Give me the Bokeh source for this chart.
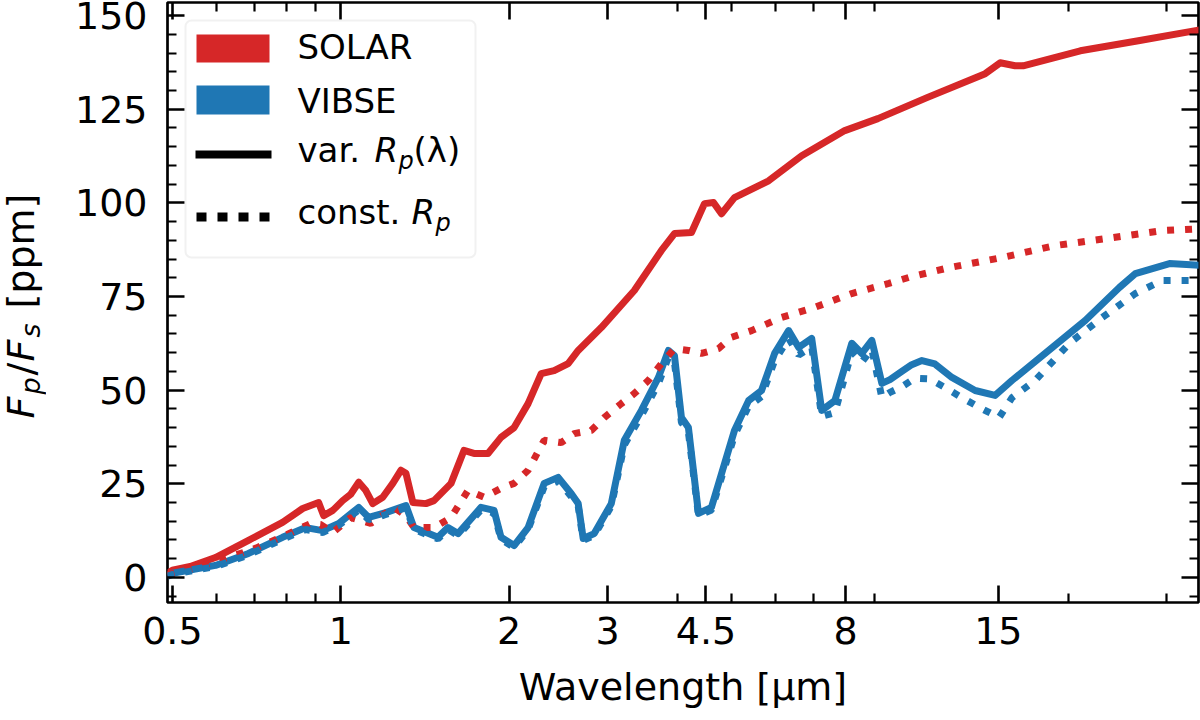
from math import pi

from bokeh.core.properties import value
from bokeh.embed import file_html
from bokeh.layouts import row
from bokeh.models import (BoxAnnotation, CustomJSTickFormatter, FixedTicker,
                          Label, LinearAxis, LogAxis, Range1d)
from bokeh.plotting import figure
from bokeh.resources import INLINE

RED = "#d62728"
BLUE = "#1f77b4"
FONT = "DejaVu Sans"

# ---- emission spectra: planet/star contrast in ppm vs wavelength in micron ----
wl_solar_var = [0.490, 0.500, 0.538, 0.597, 0.684, 0.787, 0.855, 0.913, 0.932, 0.968,
                1.008, 1.042, 1.077, 1.109, 1.141, 1.189, 1.239, 1.281, 1.308, 1.346,
                1.420, 1.468, 1.575, 1.661, 1.731, 1.834, 1.935, 2.042, 2.163, 2.283,
                2.408, 2.551, 2.659, 2.924, 3.350, 3.746, 3.952, 4.239, 4.472, 4.641,
                4.797, 5.060, 5.824, 6.674, 7.969, 9.133, 11.18, 14.21, 15.11, 16.07,
                16.61, 21.02, 26.70, 33.79, 34.49]
fpfs_solar_var = [1.1, 1.9, 2.9, 5.3, 9.9, 14.7, 18.4, 20.0, 16.5, 17.9,
                  20.5, 22.2, 25.4, 23.2, 19.7, 21.4, 25.1, 28.6, 27.8, 20.0,
                  19.7, 20.5, 25.1, 33.9, 33.1, 33.1, 37.4, 40.0, 46.4, 54.4,
                  55.2, 57.1, 60.6, 66.7, 76.6, 87.3, 91.8, 92.1, 99.8, 100.1,
                  97.1, 101.4, 105.9, 112.6, 119.3, 122.5, 128.1, 134.5, 137.4, 136.6,
                  136.6, 140.6, 143.3, 146.0, 146.2]

wl_solar_const = [0.490, 0.510, 0.561, 0.627, 0.690, 0.781, 0.884, 0.921, 0.968, 1.042,
                  1.132, 1.245, 1.308, 1.352, 1.468, 1.575, 1.689, 1.804, 1.935, 2.042,
                  2.163, 2.311, 2.479, 2.615, 2.805, 2.961, 3.175, 3.350, 3.550, 3.746,
                  3.952, 4.186, 4.417, 4.738, 4.998, 5.430, 6.144, 7.042, 8.204, 9.557,
                  10.38, 12.24, 15.23, 18.96, 23.98, 29.48, 34.49]
fpfs_solar_const = [0.8, 1.3, 2.9, 5.3, 7.2, 10.7, 14.4, 14.1, 12.0, 16.0,
                    14.4, 18.7, 16.5, 13.3, 13.3, 16.0, 23.2, 21.4, 23.8, 25.1,
                    28.6, 36.6, 36.0, 38.4, 39.2, 42.7, 46.4, 49.1, 52.6, 57.1,
                    61.1, 60.6, 59.8, 61.1, 64.1, 65.9, 69.4, 72.1, 75.8, 78.5,
                    80.1, 82.7, 85.4, 88.6, 90.7, 92.6, 93.1]

wl_vibse_var = [0.490, 0.500, 0.597, 0.684, 0.787, 0.866, 0.928, 0.992, 1.077, 1.122,
                1.204, 1.308, 1.352, 1.492, 1.555, 1.621, 1.782, 1.880, 1.935, 2.042,
                2.163, 2.311, 2.448, 2.583, 2.659, 2.714, 2.840, 3.047, 3.215, 3.449,
                3.700, 3.855, 3.952, 4.067, 4.186, 4.363, 4.603, 5.060, 5.363, 5.657,
                5.970, 6.324, 6.592, 6.955, 7.248, 7.650, 8.204, 8.549, 8.908, 9.285,
                9.600, 10.08, 10.50, 10.95, 11.55, 12.39, 13.63, 14.80, 15.87, 18.73,
                21.45, 24.69, 26.37, 30.35, 34.49]
fpfs_vibse_var = [0.5, 1.1, 3.2, 6.4, 10.7, 13.3, 12.5, 14.4, 18.7, 16.0,
                  17.3, 19.2, 13.3, 10.7, 13.3, 11.7, 18.7, 17.9, 10.7, 8.5,
                  13.3, 25.1, 26.7, 22.4, 19.7, 10.4, 11.7, 19.7, 36.6, 44.6,
                  53.4, 60.6, 59.2, 42.7, 40.0, 17.1, 18.7, 39.2, 47.2, 49.9,
                  59.8, 65.9, 61.4, 63.8, 44.6, 47.2, 62.5, 59.8, 63.3, 51.8,
                  52.8, 55.0, 56.8, 57.9, 57.0, 53.4, 49.9, 48.6, 52.6, 61.4,
                  68.6, 77.4, 81.1, 83.8, 83.3]

wl_vibse_const = [0.490, 0.500, 0.597, 0.684, 0.787, 0.866, 0.928, 0.992, 1.077, 1.122,
                  1.204, 1.308, 1.352, 1.492, 1.555, 1.621, 1.782, 1.880, 1.935, 2.042,
                  2.163, 2.311, 2.448, 2.583, 2.659, 2.714, 2.840, 3.047, 3.215, 3.449,
                  3.700, 3.855, 3.952, 4.067, 4.186, 4.363, 4.603, 5.060, 5.363, 5.657,
                  5.970, 6.324, 6.592, 6.955, 7.248, 7.650, 8.204, 8.549, 8.908, 9.285,
                  9.600, 10.08, 10.64, 11.30, 12.04, 12.91, 13.86, 15.05, 15.87, 17.46,
                  20.09, 23.01, 26.37, 29.48, 34.49]
fpfs_vibse_const = [0.3, 0.8, 2.9, 6.0, 10.2, 12.8, 12.0, 13.9, 18.0, 15.4,
                    16.8, 18.6, 12.8, 10.3, 12.8, 11.2, 18.0, 17.2, 10.2, 8.0,
                    12.8, 24.2, 25.8, 21.6, 19.0, 9.9, 11.2, 19.0, 35.4, 43.2,
                    51.8, 58.8, 57.5, 41.4, 38.8, 16.5, 18.0, 37.9, 45.7, 48.3,
                    57.9, 63.8, 59.4, 61.6, 43.0, 44.0, 60.3, 57.5, 61.0, 48.0,
                    49.4, 50.9, 53.2, 53.0, 50.7, 48.0, 45.4, 42.7, 48.0, 52.6,
                    62.5, 69.4, 75.8, 79.3, 79.3]

x_ticks = [0.5, 1, 2, 3, 4.5, 8, 15]
x_tick_labels = ["0.5", "1", "2", "3", "4.5", "8", "15"]
x_minor_ticks = [0.6, 0.7, 0.8, 0.9, 4, 5, 6, 7, 9, 20, 30]
y_ticks = [0, 25, 50, 75, 100, 125, 150]
y_minor_ticks = [-5, 5, 10, 15, 20, 30, 35, 40, 45, 55, 60, 65, 70, 80, 85, 90, 95,
                 105, 110, 115, 120, 130, 135, 140, 145]

STRIP_W = 46  # width of the strip carrying the y-axis title

p = figure(width=1200 - STRIP_W, height=720, x_axis_type="log",
           x_range=Range1d(0.49, 34.2), y_range=Range1d(-6.7, 153.5),
           output_backend="svg", toolbar_location=None,
           min_border_left=167 - STRIP_W, min_border_right=2,
           min_border_top=2, min_border_bottom=118)
p.xgrid.visible = False
p.ygrid.visible = False
p.background_fill_color = "white"
p.border_fill_color = "white"
p.outline_line_color = "black"
p.outline_line_width = 2.7


def style_axis(ax, major, minor, show_labels):
    ax.ticker = FixedTicker(ticks=major, minor_ticks=minor)
    ax.axis_line_color = None
    ax.major_tick_in = 17
    ax.major_tick_out = 0
    ax.minor_tick_in = 9
    ax.minor_tick_out = 0
    ax.major_tick_line_width = 2.6
    ax.minor_tick_line_width = 2.2
    ax.major_tick_line_color = "black"
    ax.minor_tick_line_color = "black"
    ax.major_label_text_font = FONT
    ax.major_label_text_color = "black"
    if show_labels:
        ax.major_label_text_font_size = "38px"
    else:
        ax.formatter = CustomJSTickFormatter(code="return ''")
        ax.major_label_text_font_size = "0px"
        ax.major_label_standoff = 0


xb = p.xaxis[0]
style_axis(xb, x_ticks, x_minor_ticks, True)
xb.major_label_overrides = dict(zip(x_ticks, x_tick_labels))
xb.major_label_standoff = 14
xb.axis_label = "Wavelength [µm]"
xb.axis_label_text_font = FONT
xb.axis_label_text_font_size = "38px"
xb.axis_label_text_font_style = "normal"
xb.axis_label_text_color = "black"
xb.axis_label_standoff = 18

yl = p.yaxis[0]
style_axis(yl, y_ticks, y_minor_ticks, True)
yl.major_label_standoff = 20
yl.axis_label = None

xt = LogAxis()
style_axis(xt, x_ticks, x_minor_ticks, False)
p.add_layout(xt, "above")
yr = LinearAxis()
style_axis(yr, y_ticks, y_minor_ticks, False)
p.add_layout(yr, "right")

# spectra
p.line(wl_solar_var, fpfs_solar_var, line_color=RED, line_width=7, line_join="round")
p.line(wl_vibse_var, fpfs_vibse_var, line_color=BLUE, line_width=7, line_join="round")
p.line(wl_solar_const, fpfs_solar_const, line_color=RED, line_width=7, line_dash="7 11")
p.line(wl_vibse_const, fpfs_vibse_const, line_color=BLUE, line_width=7, line_dash="7 11")


def lab(x, y, text, size, style="normal"):
    p.add_layout(Label(x=x, y=y, x_units="screen", y_units="screen", text=text,
                       text_font=FONT, text_font_size=size,
                       text_font_style=style, text_color="black",
                       text_baseline="middle", text_align="left"))


# legend
p.add_layout(BoxAnnotation(left=18, right=308, top=582, bottom=345,
                           left_units="screen", right_units="screen",
                           top_units="screen", bottom_units="screen",
                           fill_color="white", fill_alpha=0.8,
                           line_color="#d0d0d0", line_width=2, border_radius=6))


def swatch(left, right, top, bottom, color):
    p.add_layout(BoxAnnotation(left=left, right=right, top=top, bottom=bottom,
                               left_units="screen", right_units="screen",
                               top_units="screen", bottom_units="screen",
                               fill_color=color, fill_alpha=1.0, line_color=None))


swatch(29, 102, 568, 540, RED)
swatch(29, 102, 517, 488, BLUE)
swatch(28, 104, 452, 444, "black")
for dx in (29, 50, 71, 92):
    swatch(dx, dx + 10, 390, 381, "black")

lab(130, 556, "SOLAR", "34px")
lab(130, 502, "VIBSE", "34px")
lab(130, 453, "var.", "34px")
lab(207, 453, "R", "34px", "italic")
lab(231, 442, "p", "24px", "italic")
lab(246, 453, "(λ)", "34px")
lab(130, 391, "const.", "34px")
lab(244, 391, "R", "34px", "italic")
lab(268, 380, "p", "24px", "italic")

# y-axis title F_p/F_s [ppm] in a narrow strip left of the plot, read bottom-to-top;
# the strip's frame lines up with the main frame, its y coordinate counts up from the page bottom
t = figure(width=STRIP_W, height=720, x_range=Range1d(0, STRIP_W), y_range=Range1d(118, 718),
           output_backend="svg", toolbar_location=None, title=None,
           min_border_left=0, min_border_right=0, min_border_top=2, min_border_bottom=118,
           x_axis_location=None, y_axis_location=None)
t.grid.visible = False
t.outline_line_color = None
t.background_fill_color = "white"
t.border_fill_color = "white"

title_common = dict(angle=pi / 2, text_font=value(FONT), text_color="black",
                    text_baseline="middle", text_align="left")
t.text(x=[20, 20], y=[302, 359], text=["F", "F"], text_font_size="38px",
       text_font_style="italic", **title_common)
t.text(x=[30, 30], y=[326, 383], text=["p", "s"], text_font_size="27px",
       text_font_style="italic", **title_common)
t.text(x=[20, 20], y=[345, 412], text=["/", "[ppm]"], text_font_size="38px",
       text_font_style="normal", **title_common)

open("out.html", "w").write(file_html(row(t, p), INLINE))
